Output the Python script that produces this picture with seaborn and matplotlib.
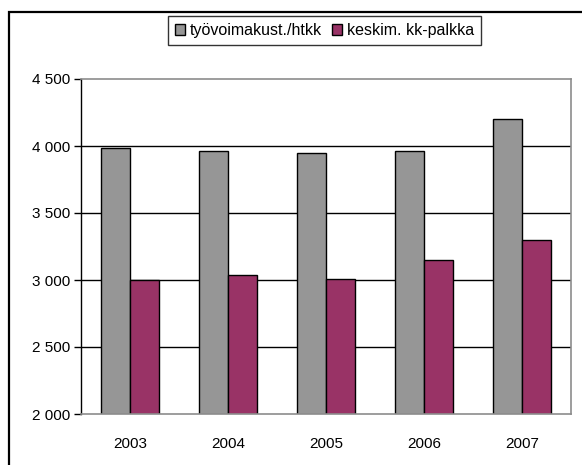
import pandas as pd
import seaborn as sns
import matplotlib.pyplot as plt
from matplotlib.patches import Rectangle
from matplotlib.ticker import FuncFormatter

years = ["2003", "2004", "2005", "2006", "2007"]
tyovoimakust = [3988, 3962, 3950, 3962, 4200]
keskim_palkka = [2998, 3040, 3010, 3150, 3300]
series_names = ["työvoimakust./htkk", "keskim. kk-palkka"]
colors = ["#969696", "#993366"]

df = pd.DataFrame({
    "vuosi": years * 2,
    "arvo": tyovoimakust + keskim_palkka,
    "sarja": [series_names[0]] * len(years) + [series_names[1]] * len(years),
})

sns.set_style("white")
plt.rcParams["font.family"] = ["Liberation Sans", "DejaVu Sans"]
plt.rcParams["text.color"] = "black"
plt.rcParams["xtick.color"] = "black"
plt.rcParams["ytick.color"] = "black"

fig = plt.figure(figsize=(5.82, 4.65), dpi=100)
ax = fig.add_axes([81 / 582, 51 / 465, 490 / 582, 335 / 465])

sns.barplot(data=df, x="vuosi", y="arvo", hue="sarja", palette=colors,
            width=0.59, gap=0, edgecolor="black", linewidth=1.0,
            saturation=1, ax=ax, legend=True)

ax.set_ylim(2000, 4500)
ax.set_yticks(range(2000, 4501, 500))
ax.yaxis.set_major_formatter(FuncFormatter(lambda v, p: f"{int(v):,}".replace(",", " ")))
for y in range(2500, 4500, 500):
    ax.axhline(y, color="black", lw=1.0, zorder=0)

ax.set_xlabel("")
ax.set_ylabel("")
for side in ["top", "right", "bottom"]:
    ax.spines[side].set_color("#8c8c8c")
    ax.spines[side].set_linewidth(1.2)
ax.spines["left"].set_color("black")
ax.spines["left"].set_linewidth(1.0)
ax.tick_params(axis="y", left=True, length=5, width=1, color="black",
               labelsize=11, pad=3, labelcolor="black")
ax.tick_params(axis="x", bottom=False, labelsize=11, pad=13, labelcolor="black")

handles, labels = ax.get_legend_handles_labels()
ax.get_legend().remove()
leg = fig.legend(handles, labels, loc="center", ncol=2,
                 bbox_to_anchor=(324.5 / 582, 1 - 30.5 / 465),
                 frameon=True, fancybox=False, edgecolor="black",
                 fontsize=11.5, handlelength=0.65, handleheight=0.65,
                 handletextpad=0.3, columnspacing=0.6, borderpad=0.45,
                 borderaxespad=0)
leg.get_frame().set_linewidth(1.0)
for t in leg.get_texts():
    t.set_color("black")

fig.add_artist(Rectangle((9 / 582, -0.2), 1.2, 1.2 - 12 / 465,
                         transform=fig.transFigure, fill=False,
                         edgecolor="black", lw=1.6, clip_on=False))

fig.savefig("out.png", dpi=100)
